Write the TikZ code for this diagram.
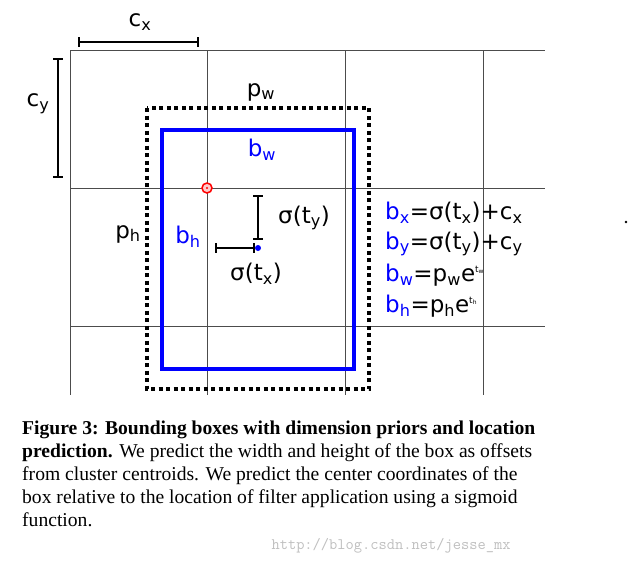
\documentclass[tikz,border=0pt]{standalone}
\usepackage{fontspec}
\setmainfont{Liberation Serif}
\newfontfamily\diagfont{DejaVu Sans}
\usetikzlibrary{positioning}
\tikzstyle{grid line}=[draw, line width=0.7pt, black!70]
\tikzstyle{bar}=[draw, line width=1.6pt, |-|]
\tikzstyle{lbl}=[font=\diagfont\fontsize{23}{23}\selectfont, inner sep=1pt]
\tikzstyle{blbl}=[lbl, text=blue]
\tikzstyle{formula}=[font=\diagfont\fontsize{23}{24}\selectfont, inner sep=0pt, anchor=west]
\begin{document}
\begin{tikzpicture}[x=1pt, y=-1pt]
		\useasboundingbox (0,0) rectangle (641,571);
		% grid
		\foreach \y in {50,188,326}
		\path[grid line] (70,\y) -- (545,\y);
		\foreach \x in {70,207,345,483}
		\path[grid line] (\x,50) -- (\x,395);
		% prior and predicted boxes
		\path[draw, line width=4pt, dash pattern=on 4pt off 3.5pt] (147,108) rectangle (369,389);
		\path[draw, blue, line width=4.5pt] (162,130) rectangle (354,369);
		\draw[red, line width=1.5pt, fill=red!20] (207,188) circle (5pt);
		\fill[red] (207,188) circle (1.2pt);
		\node[circle, fill=blue, inner sep=0pt, minimum size=6pt] (ctr) at (258,248) {};
		% offsets and cell sizes
		\coordinate (cxa) at (78,42);  \coordinate (cxb) at (199,42);
		\coordinate (cya) at (58,58);  \coordinate (cyb) at (58,178);
		\coordinate (sya) at (258,195); \coordinate (syb) at (258,240);
		\coordinate (sxa) at (215,248);
		\path[bar] (cxa) -- (cxb);
		\path[bar] (cya) -- (cyb);
		\path[bar] (sya) -- (syb);
		\path[bar] (sxa) -- (ctr.west);
		% labels
		\node[lbl] (cx) at (140,22) {c\textsubscript{x}};
		\node[lbl] (cy) at (38,104) {c\textsubscript{y}};
		\node[lbl] (pw) at (261,92) {p\textsubscript{w}};
		\node[blbl] (bw) at (262,150) {b\textsubscript{w}};
		\node[lbl] (ph) at (128,234) {p\textsubscript{h}};
		\node[blbl] (bh) at (188,237) {b\textsubscript{h}};
		\node[lbl] (sy) at (304,218) {σ(t\textsubscript{y})};
		\node[lbl] (sx) at (256,274) {σ(t\textsubscript{x})};
		\node[formula] (fx) at (385,213) {\textcolor{blue}{b\textsubscript{x}}=σ(t\textsubscript{x})+c\textsubscript{x}};
		\node[formula] (fy) at (385,244) {\textcolor{blue}{b\textsubscript{y}}=σ(t\textsubscript{y})+c\textsubscript{y}};
		\node[formula] (fw) at (385,275) {\textcolor{blue}{b\textsubscript{w}}=p\textsubscript{w}e\textsuperscript{\fontsize{9}{9}\selectfont t\textsubscript{w}}};
		\node[formula] (fh) at (385,306) {\textcolor{blue}{b\textsubscript{h}}=p\textsubscript{h}e\textsuperscript{\fontsize{9}{9}\selectfont t\textsubscript{h}}};
		\fill (626,222) circle (1.3pt);
		% caption
		\node[anchor=north west, align=left, inner sep=0pt, font=\fontsize{19.6}{23}\selectfont] (cap) at (22,421) {%
			\textbf{Figure 3: Bounding boxes with dimension priors and location}\\
			\textbf{prediction.} We predict the width and height of the box as offsets\\
			from cluster centroids. We predict the center coordinates of the\\
			box relative to the location of filter application using a sigmoid\\
			function.};
		\node[anchor=west, text=black!25, font=\ttfamily\fontsize{16}{16}\selectfont] (wm) at (268,546) {http://blog.csdn.net/jesse\_mx};
\end{tikzpicture}
\end{document}
